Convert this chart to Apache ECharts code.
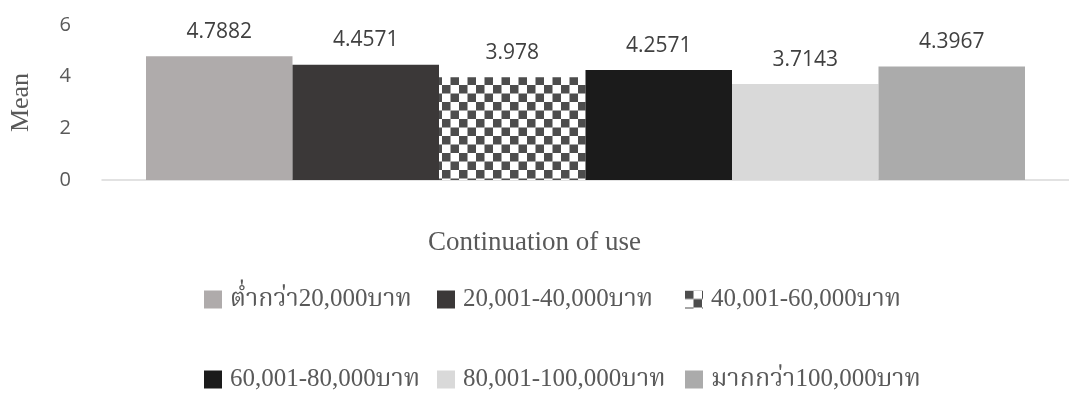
<!DOCTYPE html>
<html>
<head>
<meta charset="utf-8">
<script src="https://cdn.jsdelivr.net/npm/echarts@6/dist/echarts.min.js"></script>
<style>
  html, body { margin: 0; padding: 0; background: #fff; }
  #main { width: 1069px; height: 412px; }
</style>
</head>
<body>
<div id="main"></div>
<script>
// income groups (legend) and mean values
var groups = ['ต่ำกว่า20,000บาท', '20,001-40,000บาท', '40,001-60,000บาท',
              '60,001-80,000บาท', '80,001-100,000บาท', 'มากกว่า100,000บาท'];
var means = [4.7882, 4.4571, 3.978, 4.2571, 3.7143, 4.3967];
var category = ['Continuation of use'];
var yTicks = [0, 2, 4, 6];

// checker pattern for the 3rd bar
function checker() {
    var c = document.createElement('canvas');
    c.width = 17; c.height = 17;
    var ctx = c.getContext('2d');
    ctx.fillStyle = '#ffffff';
    ctx.fillRect(0, 0, 17, 17);
    ctx.fillStyle = '#4d4d4d';
    ctx.fillRect(0, 0, 8.5, 8.5);
    ctx.fillRect(8.5, 8.5, 8.5, 8.5);
    return c;
}

var colors = ['#afabab', '#3b3838', { image: checker(), repeat: 'repeat' },
              '#1b1b1b', '#d9d9d9', '#ababab'];

var serif = '"Liberation Serif", "Times New Roman", "Noto Serif Thai", serif';
var sans = '"Open Sans", "Noto Sans", sans-serif';

var chart = echarts.init(document.getElementById('main'));

var series = [];
for (var i = 0; i < groups.length; i++) {
    series.push({
        name: groups[i],
        type: 'bar',
        data: [means[i]],
        barWidth: 146.5,
        barGap: 0,
        itemStyle: { color: colors[i] },
        label: {
            show: true,
            position: 'top',
            distance: 14,
            color: '#404040',
            fontFamily: sans,
            fontSize: 21
        }
    });
}

// legend: 2 rows x 3 columns
var legendLeft = [199, 432, 680];
var legendTop = [282, 362];
var legends = [];
for (var j = 0; j < groups.length; j++) {
    legends.push({
        data: [groups[j]],
        left: legendLeft[j % 3],
        top: legendTop[Math.floor(j / 3)],
        itemWidth: 18,
        itemHeight: 18,
        itemGap: 0,
        icon: 'rect',
        selectedMode: false,
        textStyle: {
            color: '#595959',
            fontFamily: serif,
            fontSize: 25,
            padding: [0, 0, 0, 3]
        }
    });
}

var option = {
    animation: false,
    title: {
        text: category[0],
        left: 'center',
        top: 224,
        textStyle: { color: '#595959', fontFamily: serif, fontSize: 27, fontWeight: 'normal' }
    },
    grid: { left: 92, right: -10, top: 25, bottom: 232 },
    legend: legends,
    xAxis: {
        type: 'category',
        data: category,
        axisTick: { show: false },
        axisLabel: { show: false },
        axisLine: { lineStyle: { color: '#d9d9d9', width: 1.5 } }
    },
    yAxis: {
        type: 'value',
        min: yTicks[0],
        max: yTicks[yTicks.length - 1],
        interval: 2,
        name: 'Mean',
        nameLocation: 'middle',
        nameRotate: 90,
        nameGap: 68,
        nameTextStyle: { color: '#595959', fontFamily: serif, fontSize: 26 },
        splitLine: { show: false },
        axisLine: { show: false },
        axisTick: { show: false },
        axisLabel: { color: '#595959', fontFamily: sans, fontSize: 20, margin: 31 }
    },
    series: series
};

chart.setOption(option);
</script>
</body>
</html>
